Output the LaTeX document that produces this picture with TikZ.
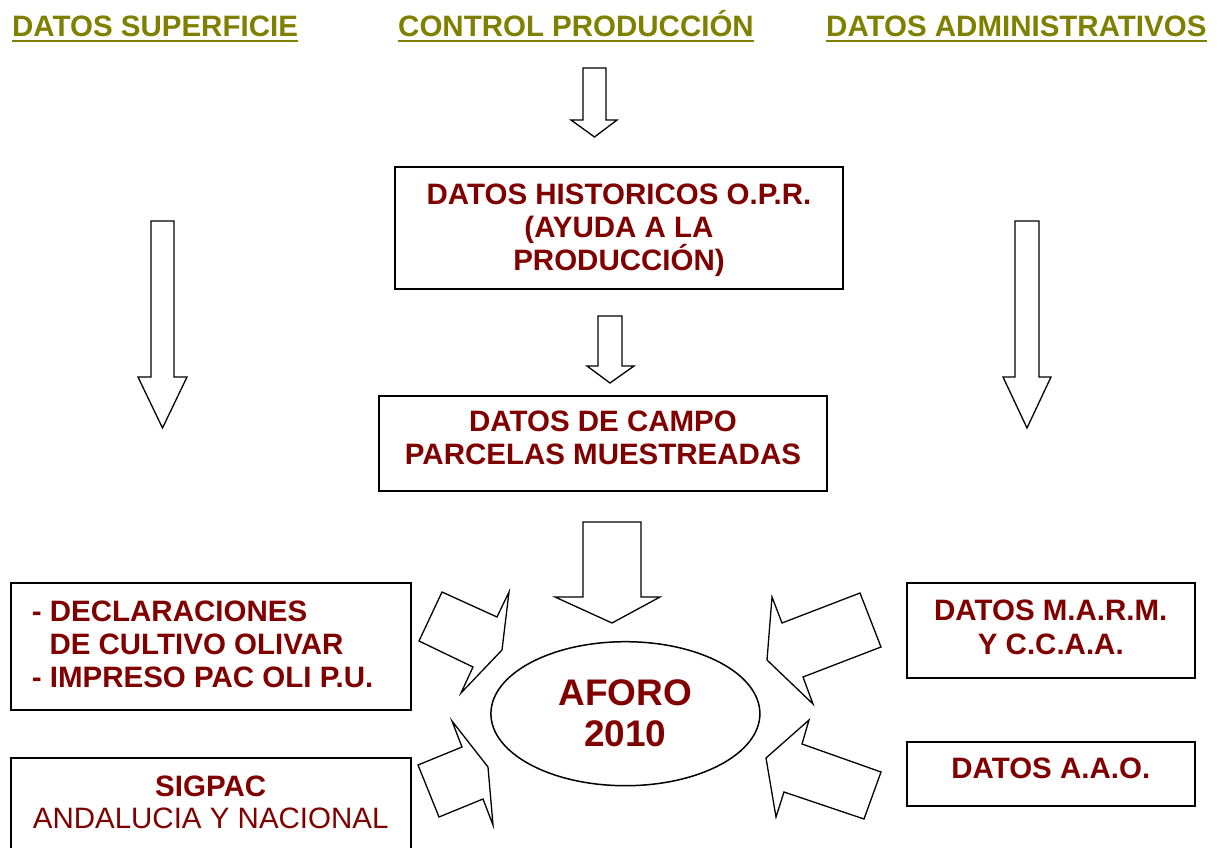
\documentclass[tikz,border=0pt]{standalone}
\usepackage{fontspec}
\setmainfont{Liberation Sans}
\usetikzlibrary{shapes.geometric}
\definecolor{olivetitle}{HTML}{808000}
\definecolor{darkred}{HTML}{800000}
\begin{document}
\begin{tikzpicture}[x=1pt,y=-1pt,
  box/.style={draw, line width=1.8pt, inner sep=0pt},
  blockarrow/.style={draw, line width=1.3pt, line join=miter, fill=white},
  titletxt/.style={text=olivetitle, font=\fontsize{29.5}{33}\selectfont\bfseries, inner sep=0pt, anchor=base west},
  txt/.style={text=darkred, font=\fontsize{29.5}{33}\selectfont\bfseries, inner sep=0pt, anchor=base},
  txtl/.style={txt, anchor=base west},
  txtn/.style={text=darkred, font=\fontsize{29.5}{33}\selectfont, inner sep=0pt, anchor=base},
  bigtxt/.style={text=darkred, font=\fontsize{37}{40}\selectfont\bfseries, inner sep=0pt, anchor=base},
  underl/.style={draw=olivetitle, line width=2pt}
]
\clip (0,0) rectangle (1218,848);
\useasboundingbox (0,0) rectangle (1218,848);

% titles
\node[titletxt] (t1) at (12,37) {DATOS SUPERFICIE};
\node[titletxt] (t2) at (398,37) {CONTROL PRODUCCIÓN};
\node[titletxt] (t3) at (826,37) {DATOS ADMINISTRATIVOS};
\draw[underl] ([yshift=-4pt]t1.base west) -- ([yshift=-4pt]t1.base east);
\draw[underl] ([yshift=-4pt]t2.base west) -- ([yshift=-4pt]t2.base east);
\draw[underl] ([yshift=-4pt]t3.base west) -- ([yshift=-4pt]t3.base east);

% vertical block arrows
\draw[blockarrow] (583,68) -- (606,68) -- (606,120) -- (617,120) -- (594.5,137) -- (571,120) -- (583,120) -- cycle;
\draw[blockarrow] (151,221) -- (174,221) -- (174,377) -- (187,377) -- (162.5,428) -- (138,377) -- (151,377) -- cycle;
\draw[blockarrow] (1015,221) -- (1039,221) -- (1039,377) -- (1051,377) -- (1027,428) -- (1003,377) -- (1015,377) -- cycle;
\draw[blockarrow] (598,316) -- (622,316) -- (622,366) -- (634,366) -- (610,383) -- (587,366) -- (598,366) -- cycle;
\draw[blockarrow] (583,522) -- (641,522) -- (641,597) -- (660,597) -- (612,623) -- (555,597) -- (583,597) -- cycle;

% diagonal block arrows
\draw[blockarrow] (442,592) -- (497,617) -- (509,592) -- (502,650) -- (461,693) -- (473,667) -- (419,641) -- cycle;
\draw[blockarrow] (452,721) -- (462,747) -- (418,765) -- (439,817) -- (483,799) -- (493,825) -- (488,767) -- cycle;
\draw[blockarrow] (772,597) -- (782,623) -- (860,593) -- (881,647) -- (803,677) -- (813,704) -- (767,660) -- cycle;
\draw[blockarrow] (809,720) -- (802,744) -- (881,772) -- (864,819) -- (784,792) -- (776,817) -- (766,758) -- cycle;

% boxes
\node[box, minimum width=448, minimum height=122] (hist) at (619,228.3) {};
\node[txt] (hist1) at (619,204.3) {DATOS HISTORICOS O.P.R.};
\node[txt] (hist2) at (619,237.6) {(AYUDA A LA};
\node[txt] (hist3) at (619,270.9) {PRODUCCIÓN)};

\node[box, minimum width=448, minimum height=95] (campo) at (603,443.2) {};
\node[txt] (campo1) at (603,431) {DATOS DE CAMPO};
\node[txt] (campo2) at (603,464.3) {PARCELAS MUESTREADAS};

\node[box, minimum width=400, minimum height=127] (decl) at (210.7,646.7) {};
\node[txtl] (decl1) at (31.7,621.7) {- DECLARACIONES};
\node[txtl] (decl2) at (49.3,654.6) {DE CULTIVO OLIVAR};
\node[txtl] (decl3) at (31.7,687.5) {- IMPRESO PAC OLI P.U.};

\node[box, minimum width=400, minimum height=120] (sig) at (210.7,818.3) {};
\node[txt] (sig1) at (210.7,796.7) {SIGPAC};
\node[txtn] (sig2) at (210.7,828.6) {ANDALUCIA Y NACIONAL};

\node[box, minimum width=288, minimum height=95] (marm) at (1050.8,630.8) {};
\node[txt] (marm1) at (1050.8,620.7) {DATOS M.A.R.M.};
\node[txt] (marm2) at (1050.8,654) {Y C.C.A.A.};

\node[box, minimum width=288, minimum height=63.4] (aao) at (1050.8,774) {};
\node[txt] (aao1) at (1050.8,778.3) {DATOS A.A.O.};

% ellipse
\node[ellipse, draw, line width=1.5pt, minimum width=269, minimum height=144, inner sep=0pt] (aforo) at (625.4,713.7) {};
\node[bigtxt] (aforo1) at (625.4,705.7) {AFORO};
\node[bigtxt] (aforo2) at (625.4,746.7) {2010};
\end{tikzpicture}
\end{document}
